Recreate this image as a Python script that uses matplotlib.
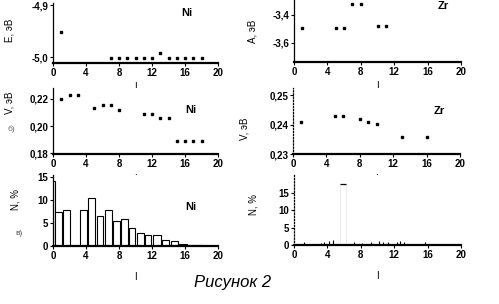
import matplotlib.pyplot as plt

plt.rcParams["font.family"] = ["Liberation Sans", "DejaVu Sans"]
plt.rcParams["font.size"] = 7

# a) cohesion energy, Ni
ni_e_l = [1, 7, 8, 9, 10, 11, 12, 13, 14, 15, 16, 17, 18]
ni_e = [-4.951, -5.002, -5.002, -5.002, -5.002, -5.002, -5.002, -4.992,
        -5.002, -5.002, -5.002, -5.002, -5.002]

# a) Zr
zr_a_l = [1, 5, 6, 7, 8, 10, 11]
zr_a = [-3.495, -3.495, -3.495, -3.32, -3.32, -3.476, -3.476]

# b) V, Ni
ni_v_l = [1, 2, 3, 5, 6, 7, 8, 11, 12, 13, 14, 15, 16, 17, 18]
ni_v = [0.2198, 0.223, 0.223, 0.2136, 0.2156, 0.2156, 0.2119, 0.2087, 0.2087,
        0.2057, 0.2057, 0.1889, 0.1889, 0.1889, 0.1889]

# b) V, Zr
zr_v_l = [1, 5, 6, 8, 9, 10, 13, 16]
zr_v = [0.2409, 0.2430, 0.2430, 0.2419, 0.2409, 0.2401, 0.2359, 0.2359]

# c) histogram N, Ni
ni_n_left = [0.0, 0.3, 1.2, 3.3, 4.3, 5.3, 6.3, 7.3, 8.3, 9.2, 10.2, 11.1,
             12.1, 13.2, 14.3, 15.3, 16.5]
ni_n_width = [0.25, 0.8, 0.8, 0.8, 0.8, 0.8, 0.8, 0.8, 0.8, 0.8, 0.8, 0.8,
              1.0, 0.9, 0.8, 1.0, 1.5]
ni_n = [14.0, 7.4, 7.8, 7.8, 10.4, 6.4, 7.8, 5.4, 5.9, 3.9, 2.8, 2.4, 2.4,
        1.3, 1.0, 0.4, 0.2]

# c) histogram N, Zr
zr_n_l = [1.2, 3.2, 3.6, 4.2, 4.7, 7.2, 8.1, 9.2, 10.2, 10.7, 11.3, 12.3,
          12.7, 13.2, 15.7]
zr_n = [0.8, 0.6, 0.9, 1.2, 1.3, 1.0, 0.7, 0.9, 1.1, 0.9, 1.0, 0.9, 1.1,
        0.8, 0.9]
zr_peak_left = [5.5]
zr_peak_width = [0.7]
zr_peak = [17.6]

xticks = [0, 4, 8, 12, 16, 20]

W, H = 499, 304
fig = plt.figure(figsize=(W / 100, H / 100), dpi=100)


def panel(x0, x1, ytop, ybot):
    ax = fig.add_axes([x0 / W, (H - ybot) / H, (x1 - x0) / W, (ybot - ytop) / H])
    ax.spines["top"].set_visible(False)
    ax.spines["right"].set_visible(False)
    ax.spines["bottom"].set_linewidth(1.6)
    ax.spines["left"].set_linewidth(0.9)
    ax.set_xlim(0, 20)
    ax.set_xticks(xticks)
    ax.tick_params(length=2, width=0.8, pad=1.5, labelsize=7)
    ax.set_xticklabels([str(t) for t in xticks], fontweight="bold")
    return ax


def yfmt(ax, ticks, fmt):
    ax.set_yticks(ticks)
    ax.set_yticklabels([fmt.format(t).replace(".", ",") for t in ticks],
                       fontweight="bold")


# top left
ax1 = panel(53, 218, 3, 63)
ax1.plot(ni_e_l, ni_e, "s", color="black", markersize=1.5)
ax1.set_ylim(-5.0115, -4.896)
yfmt(ax1, [-5.0, -4.9], "{:.1f}")
ax1.set_ylabel("E, эВ")
ax1.yaxis.set_label_coords(-0.235, 0.55)
ax1.set_xlabel("I", labelpad=3)
ax1.text(0.78, 0.78, "Ni", transform=ax1.transAxes, fontsize=8, fontweight="bold")

# top right
ax2 = panel(294, 461, 0, 62)
ax2.plot(zr_a_l, zr_a, "s", color="black", markersize=1.5)
ax2.set_ylim(-3.736, -3.293)
yfmt(ax2, [-3.6, -3.4], "{:.1f}")
ax2.set_ylabel("A, эВ")
ax2.yaxis.set_label_coords(-0.22, 0.5)
ax2.set_xlabel("I", labelpad=3)
ax2.text(0.86, 0.85, "Zr", transform=ax2.transAxes, fontsize=8, fontweight="bold")

# middle left
ax3 = panel(53, 218, 88, 154)
ax3.plot(ni_v_l, ni_v, "s", color="black", markersize=1.5)
ax3.set_ylim(0.1793, 0.2281)
yfmt(ax3, [0.18, 0.20, 0.22], "{:.2f}")
ax3.set_ylabel("V, эВ")
ax3.yaxis.set_label_coords(-0.235, 0.78)
ax3.set_xlabel("I", labelpad=4)
ax3.text(0.8, 0.62, "Ni", transform=ax3.transAxes, fontsize=8, fontweight="bold")
fig.text(8 / W, (H - 131) / H, "б)", fontsize=6, color="0.4")

# middle right
ax4 = panel(293, 460, 88, 154)
ax4.plot(zr_v_l, zr_v, "s", color="black", markersize=1.5)
ax4.set_ylim(0.23, 0.2524)
yfmt(ax4, [0.23, 0.24, 0.25], "{:.2f}")
ax4.spines["left"].set_linestyle((0, (1, 1.5)))
ax4.set_ylabel("V, эВ")
ax4.yaxis.set_label_coords(-0.26, 0.38)
ax4.set_xlabel("I", labelpad=4)
ax4.text(0.84, 0.6, "Zr", transform=ax4.transAxes, fontsize=8, fontweight="bold")

# bottom left
ax5 = panel(53, 218, 175, 246)
ax5.bar(ni_n_left, ni_n, width=ni_n_width, align="edge", facecolor="white",
        edgecolor="black", linewidth=0.8)
ax5.set_ylim(0, 15.4)
yfmt(ax5, [0, 5, 10, 15], "{:d}")
ax5.set_ylabel("N, %")
ax5.yaxis.set_label_coords(-0.2, 0.66)
ax5.set_xlabel("I", labelpad=8)
ax5.text(0.8, 0.5, "Ni", transform=ax5.transAxes, fontsize=8, fontweight="bold")
fig.text(15 / W, (H - 235) / H, "в)", fontsize=6, color="0.3")

# bottom right
ax6 = panel(294, 461, 175, 245)
ax6.vlines(zr_n_l, 0, zr_n, color="black", linewidth=0.8)
ax6.bar(zr_peak_left, zr_peak, width=zr_peak_width, align="edge",
        facecolor="white", edgecolor="0.9", linewidth=0.6)
ax6.hlines(zr_peak, zr_peak_left,
           [a + b for a, b in zip(zr_peak_left, zr_peak_width)],
           color="black", linewidth=0.9)
ax6.set_ylim(0, 20.2)
yfmt(ax6, [0, 5, 10, 15], "{:d}")
ax6.spines["left"].set_linestyle((0, (1, 1.5)))
ax6.set_ylabel("N, %")
ax6.yaxis.set_label_coords(-0.21, 0.58)
ax6.set_xlabel("I", labelpad=8)

fig.text(233 / W, (H - 283) / H, "Рисунок 2", ha="center", va="center",
         fontsize=12, style="italic")

fig.savefig("out.png", dpi=100)
